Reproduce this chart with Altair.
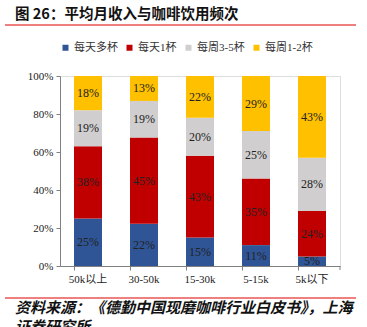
import altair as alt
import pandas as pd

cats = ["50k以上", "30-50k", "15-30k", "5-15k", "5k以下"]
series = ["每天多杯", "每天1杯", "每周3-5杯", "每周1-2杯"]
daily_multi = [25, 22, 15, 11, 5]
daily_one = [38, 45, 43, 35, 24]
weekly_35 = [19, 19, 20, 25, 28]
weekly_12 = [18, 13, 22, 29, 43]
colors = ["#2F5597", "#C00000", "#D0CECE", "#FFC000"]
y_ticks = [0, 0.2, 0.4, 0.6, 0.8, 1.0]

title_text = "图 26：平均月收入与咖啡饮用频次"
source_line1 = "资料来源：《德勤中国现磨咖啡行业白皮书》，上海"
source_line2 = "证券研究所"

rows = []
for si, (s, vals) in enumerate(zip(series, [daily_multi, daily_one, weekly_35, weekly_12])):
    for c, v in zip(cats, vals):
        rows.append({"cat": c, "series": s, "idx": si, "val": v, "lbl": f"{v}%"})
df = pd.DataFrame(rows)

SERIF = "Liberation Serif, Noto Sans CJK SC"

base = alt.Chart(df).transform_stack(
    stack="val", groupby=["cat"], sort=[alt.SortField("idx", order="ascending")],
    as_=["y0", "y1"], offset="normalize"
).transform_calculate(mid="(datum.y0 + datum.y1) / 2")

xaxis = alt.Axis(labelAngle=0, bandPosition=0, tickSize=4, labelPadding=3,
                 domainColor="#808080", tickColor="#808080",
                 labelFont=SERIF, labelFontSize=11, labelColor="#222222")
xscale = alt.Scale(paddingInner=0.5, paddingOuter=0.25)
yaxis = alt.Axis(format=".0%", values=y_ticks, grid=False,
                 tickSize=4, domainColor="#808080", tickColor="#808080",
                 labelFont="Liberation Serif", labelFontSize=11,
                 labelColor="#222222", labelPadding=3,
                 labelOverlap=False, labelFlush=False)
yscale = alt.Scale(domain=[0, 1])

bars = base.mark_bar().encode(
    x=alt.X("cat:N", sort=cats, title=None, scale=xscale, axis=xaxis),
    y=alt.Y("y0:Q", scale=yscale, title=None, axis=yaxis),
    y2="y1:Q",
    color=alt.Color("series:N", sort=series,
                    scale=alt.Scale(domain=series, range=colors),
                    legend=alt.Legend(orient="none", legendX=0, legendY=-34,
                                      direction="horizontal", columns=4, title=None,
                                      symbolType="square", symbolSize=36,
                                      symbolStrokeWidth=0, labelFont=SERIF,
                                      labelFontSize=11, labelColor="#333333",
                                      columnPadding=6, labelOffset=3, padding=0)),
)

labels = base.mark_text(font=SERIF, fontSize=12, color="#222222").encode(
    x=alt.X("cat:N", sort=cats, title=None, scale=xscale, axis=xaxis),
    y=alt.Y("mid:Q", scale=yscale, title=None, axis=yaxis),
    text="lbl:N",
)

end_tick = alt.Chart(pd.DataFrame({"a": [0]})).mark_rule(color="#808080").encode(
    x=alt.value(280), y=alt.value(190), y2=alt.value(194))

one = pd.DataFrame({"a": [0]})
title = alt.Chart(pd.DataFrame({"t": [title_text]})).mark_text(
    font="Noto Sans CJK SC", fontSize=14.5, fontWeight="bold", align="left",
    baseline="middle", color="#111111").encode(
    text="t:N", x=alt.value(-45), y=alt.value(-61))
top_line = alt.Chart(one).mark_rule(color="#E00000", strokeWidth=1).encode(
    x=alt.value(-55), x2=alt.value(296), y=alt.value(-51))
bottom_line = alt.Chart(one).mark_rule(color="#E00000", strokeWidth=1).encode(
    x=alt.value(-55), x2=alt.value(296), y=alt.value(222))
src1 = alt.Chart(pd.DataFrame({"t": [source_line1]})).mark_text(
    font="Noto Sans CJK SC", fontSize=15, fontWeight="bold", fontStyle="italic",
    align="left", baseline="middle", color="#111111").encode(
    text="t:N", x=alt.value(-45), y=alt.value(232))
src2 = alt.Chart(pd.DataFrame({"t": [source_line2]})).mark_text(
    font="Noto Sans CJK SC", fontSize=15, fontWeight="bold", fontStyle="italic",
    align="left", baseline="middle", color="#111111").encode(
    text="t:N", x=alt.value(-45), y=alt.value(251))

chart = alt.layer(bars, labels, end_tick, title, top_line, bottom_line, src1, src2).properties(
    width=280, height=190,
    autosize=alt.AutoSizeParams(type="none"),
    padding={"left": 60, "top": 76, "right": 27, "bottom": 61},
).configure_view(stroke=None).configure_axis(labelOverlap=False).configure(background="white")

chart.save("out.html", embed_options={"renderer": "svg", "actions": False})
